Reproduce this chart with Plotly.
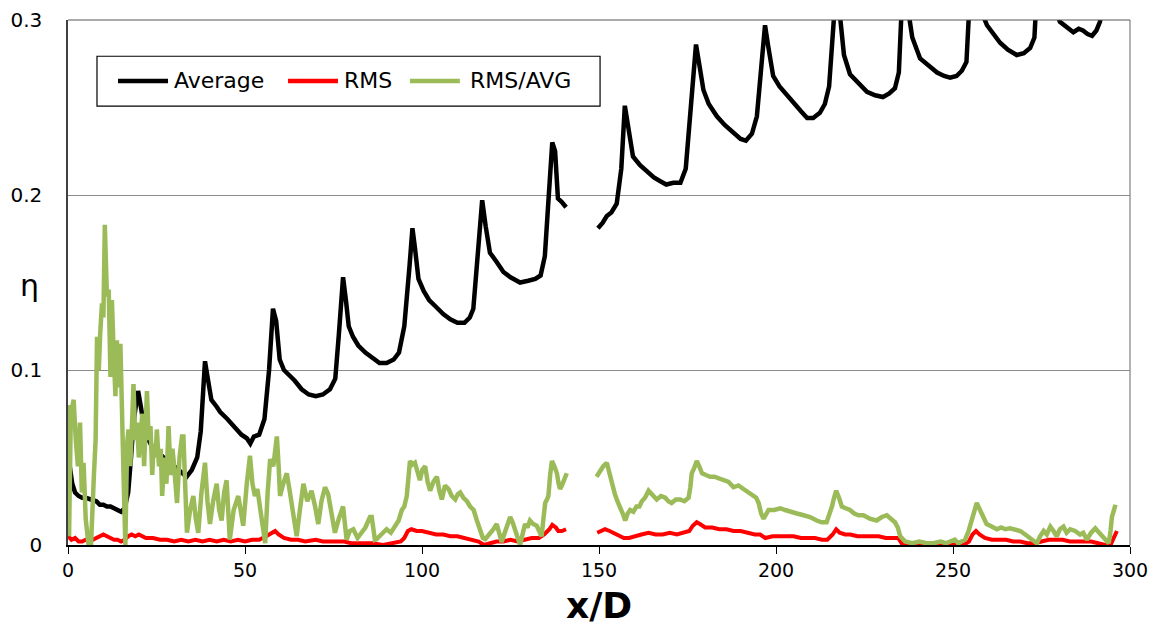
import plotly.graph_objects as go

# ---------------- data ----------------
avg_x = [0, 0.5, 1.2, 2, 3, 4, 5, 6.5, 8, 9, 10, 11, 12, 13, 14, 15, 16, 17, 17.8, 18.5, 19.2, 19.8,
         20.5, 21.3, 22.3, 24, 26, 28, 30, 32, 33.5, 35, 36.5, 37.5, 38.7, 39.5, 40.5, 42, 43, 45, 47, 49,
         50.5, 51.5, 52.5, 54, 55.5, 56.8, 57.9, 58.8, 59.8, 61, 62.5, 64, 66, 68, 70, 72, 74, 75.5, 76.5,
         77.7, 78.5, 79.3, 80.5, 82, 84, 86, 88, 90, 92, 93.5, 95, 96.5, 97.3, 98, 99, 100.5, 102, 104, 106,
         108, 110, 112, 113.5, 114.5, 115.5, 117, 118, 119.2, 121, 123, 125, 127.7, 130, 132, 133.5, 134.7,
         135.5, 136.8, 137.6, 138.4, 139.5, 140.7, None,
         149.7, 151, 152.2, 153.5, 155, 156.3, 157.3, 158.2, 159.6, 161.6, 163.6, 165.5, 167.2, 169, 171,
         173, 174.5, 175.8, 177.4, 178.3, 179.5, 181, 183.3, 185.5, 187.9, 190, 191.5, 193.2, 194.6, 195.8,
         196.9, 197.8, 199.2, 201, 203, 205, 207, 208.8, 210.5, 212.4, 213.8, 215, 216, 217.2, 218.2, 219.2,
         220.9, 223, 225.7, 228, 230.2, 232, 233.6, 234.7, 235.2, 236, 237, 238.5, 240.7, 243, 245.5, 247.5,
         249.2, 251, 252.5, 253.8, 254.5, 255.3, 256.3, 258, 259.6, 261.5, 263.3, 265.5, 268, 270, 271.8,
         273, 273.6, 274.3, 275.5, 277, 278.5, 280.2, 282, 284, 285.5, 286.7, 288, 289.3, 290.5, 291.5,
         292.5, 293.5, 295]
avg_y = [0.052, 0.045, 0.035, 0.030, 0.028, 0.027, 0.027, 0.026, 0.025, 0.023, 0.023, 0.022, 0.022, 0.021,
         0.020, 0.019, 0.021, 0.030, 0.050, 0.070, 0.080, 0.088,
         0.080, 0.070, 0.062, 0.055, 0.052, 0.048, 0.045, 0.042, 0.039, 0.043, 0.050, 0.065, 0.105, 0.095,
         0.083, 0.079, 0.076, 0.072, 0.067, 0.063,
         0.061, 0.058, 0.062, 0.063, 0.072, 0.100, 0.135, 0.128, 0.106, 0.100, 0.097, 0.094, 0.089, 0.086,
         0.085, 0.086, 0.089, 0.095, 0.120,
         0.153, 0.140, 0.125, 0.119, 0.114, 0.110, 0.107, 0.104, 0.104, 0.106, 0.110, 0.125, 0.160, 0.181,
         0.170, 0.152, 0.145, 0.140, 0.136, 0.132,
         0.129, 0.127, 0.127, 0.130, 0.135, 0.160, 0.197, 0.182, 0.167, 0.162, 0.156, 0.153, 0.150, 0.151,
         0.152, 0.154, 0.165,
         0.190, 0.230, 0.225, 0.198, 0.196, 0.193, None,
         0.181, 0.184, 0.188, 0.190, 0.195, 0.215, 0.251, 0.240, 0.222, 0.217, 0.213, 0.210, 0.208, 0.206,
         0.207,
         0.207, 0.215, 0.245, 0.286, 0.275, 0.260, 0.252, 0.245, 0.240, 0.236, 0.232, 0.231, 0.235, 0.245,
         0.270,
         0.297, 0.285, 0.268, 0.262, 0.257, 0.252, 0.248, 0.244, 0.244, 0.247, 0.252, 0.262, 0.290, 0.325,
         0.300, 0.280,
         0.269, 0.265, 0.259, 0.257, 0.256, 0.258, 0.261, 0.270, 0.290, 0.330, 0.310, 0.290, 0.278, 0.274,
         0.270, 0.268,
         0.267, 0.268, 0.271, 0.276, 0.295, 0.335, 0.320, 0.305, 0.297, 0.292, 0.287, 0.283, 0.280, 0.281,
         0.284,
         0.290, 0.310, 0.340, 0.330, 0.318, 0.308, 0.299, 0.296, 0.293, 0.295, 0.294, 0.292, 0.291, 0.294,
         0.299,
         0.310, 0.320, 0.330]

rms_x = [0, 1, 2, 3, 4, 5, 6, 7, 8, 9, 10, 11, 12, 13, 14, 15, 16, 17, 18, 19, 20, 21, 22, 24, 26, 28,
         30, 32, 34, 36, 38, 40, 42, 44, 46, 48, 50, 52, 54, 56, 57.5, 58.5, 59.5, 61, 63, 65, 67, 70, 72,
         75, 78, 80, 83, 86, 89, 92, 94, 95, 96, 97, 98.5, 100, 102, 104, 106, 108, 110, 112, 114, 116,
         117.5, 119, 121, 123, 125, 127, 129, 131, 133, 134.5, 136, 136.8, 137.8, 138.5, 139.5, 140.7, None,
         149.5, 150.5, 151.7, 153, 154, 155.5, 157, 158.5, 160, 162, 164, 166, 168, 170, 172, 174, 175.5,
         176.5, 177.6, 178.5, 180, 182, 184, 186, 188, 190, 192, 194, 195.5, 197, 199, 201, 203, 205, 207,
         209, 211, 213, 214.5, 216, 217, 218, 219.5, 221, 223, 225, 227, 229, 231, 233, 234.5, 235.5, 237,
         240, 245, 250, 253, 254.5, 255.5, 256.5, 257.5, 259, 261, 263, 265, 267, 269, 271, 273, 275, 277,
         279, 281, 283, 285, 287, 289, 291, 293, 294.5, 295.5, 296.3]
rms_y = [0.005, 0.003, 0.004, 0.002, 0.002, 0.003, 0.002, 0.003, 0.004, 0.005, 0.006, 0.005, 0.004, 0.003,
         0.003, 0.002, 0.003, 0.005, 0.006, 0.005, 0.006, 0.005, 0.004, 0.004, 0.003, 0.003,
         0.002, 0.003, 0.002, 0.003, 0.002, 0.003, 0.002, 0.003, 0.002, 0.003, 0.002, 0.003, 0.003, 0.005,
         0.007, 0.008, 0.006, 0.004, 0.003, 0.003, 0.002, 0.003, 0.002,
         0.002, 0.002, 0.001, 0.001, 0.001, 0.000, 0.001, 0.002, 0.004, 0.008, 0.009, 0.008, 0.008, 0.007,
         0.006, 0.006, 0.005, 0.005, 0.004, 0.003, 0.002,
         0.000, 0.001, 0.002, 0.002, 0.003, 0.002, 0.003, 0.004, 0.004, 0.006, 0.009, 0.0115, 0.010, 0.008,
         0.008, 0.009, None,
         0.007, 0.008, 0.009, 0.008, 0.007, 0.005, 0.004, 0.004, 0.005, 0.006, 0.007, 0.006, 0.006, 0.007,
         0.006, 0.007, 0.008,
         0.011, 0.013, 0.012, 0.010, 0.010, 0.009, 0.009, 0.008, 0.008, 0.007, 0.006, 0.006, 0.004, 0.005,
         0.005, 0.005, 0.005, 0.004,
         0.004, 0.004, 0.003, 0.003, 0.006, 0.009, 0.007, 0.006, 0.006, 0.005, 0.005, 0.005, 0.005, 0.004,
         0.004, 0.004, 0.001, 0.000,
         0.000, 0.000, 0.000, 0.000, 0.002, 0.006, 0.008, 0.006, 0.004, 0.003, 0.003, 0.003, 0.002, 0.002,
         0.001, 0.001, 0.002, 0.003,
         0.003, 0.003, 0.002, 0.002, 0.002, 0.002, 0.001, 0.000, 0.000, 0.004, 0.008]

ratio_x = [0, 0.3, 0.8, 1.6, 2.2, 2.8, 3.4, 3.9, 4.4, 5.0, 5.8, 6.5, 7.3, 7.8, 8.2, 8.7, 9.1, 9.6, 10.0,
           10.4, 11.0, 11.5, 12.0, 12.4, 12.9, 13.4, 13.8, 14.3, 14.8, 15.3, 15.7, 16.2, 16.7, 17.1, 17.6,
           18.1, 18.5, 19.0, 19.5, 20.0, 20.4, 21.0, 21.5, 22.3, 22.8, 23.3, 23.8, 24.2, 24.7, 25.1, 25.7,
           26.2, 26.6, 27.2, 27.8, 28.4, 29.0, 29.5, 29.9, 30.4, 30.8, 31.5, 32.2, 32.6, 33.0, 33.6, 34.5,
           35.4, 36.1, 36.8, 37.7, 38.7, 39.4, 40.1, 41.0, 42.0, 42.7, 43.4, 44.1, 44.8, 45.7, 46.8, 48.1,
           48.8, 49.5, 50.5, 51.4, 52.1, 52.8, 53.5, 54.2, 55.0, 55.7, 56.4, 57.1, 58.0, 59.0, 59.5, 59.9,
           60.8, 61.8, 62.7, 63.7, 64.6, 65.5, 66.5, 67.6, 68.8, 69.8, 70.7, 71.6, 72.6, 73.5, 74.5, 75.4,
           76.5, 77.7, 78.7, 79.6, 80.6, 81.8, 82.9, 84.0, 85.3, 85.8, 86.7, 87.2, 88.5, 90.0, 91.2, 92.4,
           93.4, 94.3, 95.0, 95.7, 96.2, 96.6, 97.3, 98.0, 98.7, 99.4, 100.1, 100.9, 101.6, 102.3, 103.2,
           104.2, 104.9, 105.6, 106.5, 107.5, 108.4, 109.4, 110.1, 110.8, 111.7, 112.7, 113.6, 114.6, 115.5,
           116.4, 117.2, 117.9, 119.0, 120.2, 121.1, 121.8, 122.5, 123.2, 124.0, 124.9, 125.6, 126.3, 127.0,
           127.7, 128.4, 129.1, 129.8, 130.5, 131.4, 132.4, 133.1, 133.8, 134.3, 134.8, 135.3, 135.7, 136.2,
           136.7, 137.4, 138.1, 138.6, 139.0, 139.5, 140.1, 140.9, None,
           149.3, 150.2, 151.2, 152.2, 153.1, 153.8, 154.5, 155.2, 155.9, 156.7, 157.4, 158.1, 158.8, 159.7,
           160.6, 161.4, 162.1, 163.0, 164.0, 165.2, 166.3, 167.5, 168.7, 169.6, 170.5, 171.7, 172.9, 174.1,
           175.3, 175.8, 176.2, 176.9, 177.6, 178.3, 179.1, 180.2, 181.4, 182.6, 183.8, 185.2, 186.6, 188.0,
           189.4, 190.8, 192.2, 193.7, 194.4, 195.1, 195.8, 196.5, 197.2, 197.9, 199.5, 201.2, 202.6, 204.0,
           205.9, 207.8, 209.6, 211.5, 212.9, 214.3, 215.1, 215.8, 216.4, 217.0, 217.8, 218.6, 219.7, 220.9,
           222.1, 223.3, 224.7, 226.5, 228.4, 229.9, 231.3, 232.5, 233.6, 234.4, 235.1, 236.5, 238.5, 240.5,
           242.5, 244.5, 246.5, 248.0, 249.2, 250.5, 251.5, 252.5, 253.4, 254.4, 255.3, 256.0, 256.7, 257.4,
           258.1, 258.8, 259.5, 260.5, 261.5, 262.4, 263.6, 264.8, 266.1, 267.5, 269.0, 270.4, 271.8, 272.7,
           273.7, 274.6, 275.6, 276.5, 277.5, 278.4, 279.3, 280.2, 281.2, 282.1, 283.1, 284.5, 285.9, 286.8,
           287.8, 289.0, 290.2, 291.3, 292.5, 293.3, 294.0, 294.5, 294.9, 295.9]
ratio_y = [0.080, 0.005, 0.075, 0.083, 0.060, 0.045, 0.070, 0.030, 0.047, 0.015, 0.000, 0.000, 0.039,
           0.060, 0.119, 0.100, 0.121, 0.138, 0.130, 0.183, 0.142, 0.146, 0.096, 0.140, 0.110, 0.085,
           0.117, 0.090, 0.115, 0.052, 0.039, 0.000, 0.058, 0.066, 0.045, 0.070, 0.092, 0.060, 0.070,
           0.050, 0.058, 0.075, 0.045, 0.088, 0.060, 0.068, 0.040, 0.058, 0.050, 0.066, 0.045, 0.055,
           0.028, 0.050, 0.035, 0.068, 0.040, 0.055, 0.047, 0.035, 0.024, 0.050, 0.062, 0.062, 0.030,
           0.007, 0.020, 0.028, 0.015, 0.007, 0.030, 0.047, 0.025, 0.012, 0.025, 0.035, 0.020, 0.014,
           0.030, 0.037, 0.003, 0.020, 0.028, 0.018, 0.011, 0.035, 0.051, 0.035, 0.028, 0.032, 0.022,
           0.012, 0.001, 0.030, 0.049, 0.045, 0.062, 0.045, 0.028, 0.035, 0.041, 0.030, 0.016, 0.005,
           0.020, 0.035, 0.025, 0.031, 0.022, 0.012, 0.025, 0.033, 0.029, 0.018, 0.007, 0.015, 0.022,
           0.003, 0.008, 0.009, 0.004, 0.007, 0.010, 0.016, 0.016, 0.003, 0.0034, 0.006, 0.009, 0.007,
           0.011, 0.014, 0.020, 0.022, 0.028, 0.040, 0.048, 0.046, 0.047, 0.042, 0.037, 0.043, 0.045,
           0.036, 0.031, 0.036, 0.039, 0.031, 0.026, 0.034, 0.032, 0.028, 0.026, 0.029, 0.030, 0.027,
           0.025, 0.022, 0.020, 0.014, 0.009, 0.004, 0.0034, 0.006, 0.009, 0.012, 0.006, 0.0017, 0.006,
           0.011, 0.016, 0.013, 0.009, 0.004, 0.000, 0.006, 0.012, 0.010, 0.014, 0.012, 0.011, 0.008,
           0.005, 0.015, 0.024, 0.026, 0.028, 0.040, 0.048, 0.045, 0.041, 0.035, 0.032, 0.034, 0.037,
           0.041, None,
           0.039, 0.042, 0.045, 0.047, 0.039, 0.034, 0.029, 0.025, 0.022, 0.018, 0.014, 0.018, 0.020,
           0.019, 0.022, 0.022, 0.025, 0.027, 0.031, 0.028, 0.026, 0.028, 0.027, 0.025, 0.024, 0.026,
           0.026, 0.025, 0.027, 0.033, 0.041, 0.044, 0.048, 0.045, 0.041, 0.040, 0.039, 0.039, 0.038,
           0.037, 0.036, 0.033, 0.034, 0.032, 0.030, 0.028, 0.027, 0.024, 0.018, 0.015, 0.018, 0.020,
           0.020, 0.021, 0.020, 0.019, 0.018, 0.017, 0.016, 0.014, 0.013, 0.013, 0.017, 0.022, 0.027,
           0.031, 0.027, 0.022, 0.021, 0.020, 0.018, 0.017, 0.017, 0.015, 0.014, 0.016, 0.017, 0.015,
           0.013, 0.010, 0.005, 0.002, 0.001, 0.002, 0.001, 0.001, 0.002, 0.001, 0.002, 0.003, 0.001,
           0.002, 0.003, 0.008, 0.014, 0.020, 0.024, 0.021, 0.018, 0.015, 0.012, 0.011, 0.010, 0.009,
           0.010, 0.009, 0.0095, 0.009, 0.008, 0.006, 0.004, 0.002, 0.001, 0.005, 0.008, 0.006, 0.0105,
           0.008, 0.005, 0.009, 0.0105, 0.007, 0.009, 0.008, 0.006, 0.007, 0.003, 0.007, 0.0095, 0.007,
           0.004, 0.002, 0.001, 0.008, 0.016, 0.023]

series_names = ["Average", "RMS", "RMS/AVG"]
series_colors = ["#000000", "#ff0000", "#9bbb59"]
x_ticks = [0, 50, 100, 150, 200, 250, 300]
y_ticks = [0, 0.1, 0.2, 0.3]
y_tick_text = ["0", "0.1", "0.2", "0.3"]

FONT = "'DejaVu Sans', sans-serif"

fig = go.Figure()
for name, color, xs, ys, w in [
    (series_names[0], series_colors[0], avg_x, avg_y, 4.5),
    (series_names[1], series_colors[1], rms_x, rms_y, 4),
    (series_names[2], series_colors[2], ratio_x, ratio_y, 4.5),
]:
    fig.add_trace(go.Scatter(x=xs, y=ys, mode="lines", name=name, showlegend=False,
                             line=dict(color=color, width=w), connectgaps=False))

fig.update_layout(
    width=1156, height=630,
    margin=dict(l=68, r=26, t=20, b=85),
    paper_bgcolor="white", plot_bgcolor="white",
    font=dict(family=FONT, color="#000000"),
    showlegend=False,
    xaxis=dict(range=[0, 300], tickvals=x_ticks, ticks="outside", ticklen=7, tickcolor="#000000",
               tickfont=dict(size=19), showgrid=False, zeroline=False, automargin=False,
               showline=True, linecolor="#000000", linewidth=1.5, mirror=False),
    yaxis=dict(range=[0, 0.3], tickvals=y_ticks, ticktext=y_tick_text, ticks="",
               tickfont=dict(size=20), showgrid=True, gridcolor="#8c8c8c", gridwidth=1,
               zeroline=False, showline=True, linecolor="#404040", linewidth=1.5,
               automargin=False, ticklabelstandoff=20),
)

# plot frame (top and right)
fig.add_shape(type="line", xref="paper", yref="paper", x0=1, x1=1, y0=0, y1=1,
              line=dict(color="#7f7f7f", width=1.2))
fig.add_shape(type="line", xref="paper", yref="paper", x0=0, x1=1, y0=1, y1=1,
              line=dict(color="#595959", width=1.2))

# axis titles
fig.add_annotation(text="<b>x/D</b>", xref="paper", yref="paper", x=0.5, y=-0.116,
                   xanchor="center", yanchor="middle", showarrow=False,
                   font=dict(size=36, family=FONT))
fig.add_annotation(text="η", xref="paper", x=-39 / 1062, yref="paper", y=0.495,
                   xanchor="center", yanchor="middle", showarrow=False,
                   font=dict(size=30, family=FONT))

# legend box drawn in paper coords
fig.add_shape(type="rect", xref="paper", yref="paper", x0=0.0273, x1=0.501, y0=0.836, y1=0.931,
              line=dict(color="#000000", width=1.2), fillcolor="white", layer="above")
leg_y = 0.884
leg_items = [(0.0471, 0.0942, 0.0979), (0.2072, 0.2542, 0.2580), (0.3220, 0.3690, 0.3766)]
for (x0, x1, tx), name, color in zip(leg_items, series_names, series_colors):
    fig.add_shape(type="line", xref="paper", yref="paper", x0=x0, x1=x1, y0=leg_y, y1=leg_y,
                  line=dict(color=color, width=4.5), layer="above")
    fig.add_annotation(text=name, xref="paper", yref="paper", x=tx, y=leg_y,
                       xanchor="left", yanchor="middle", showarrow=False,
                       font=dict(size=22, family=FONT))

fig.write_html("out.html")
